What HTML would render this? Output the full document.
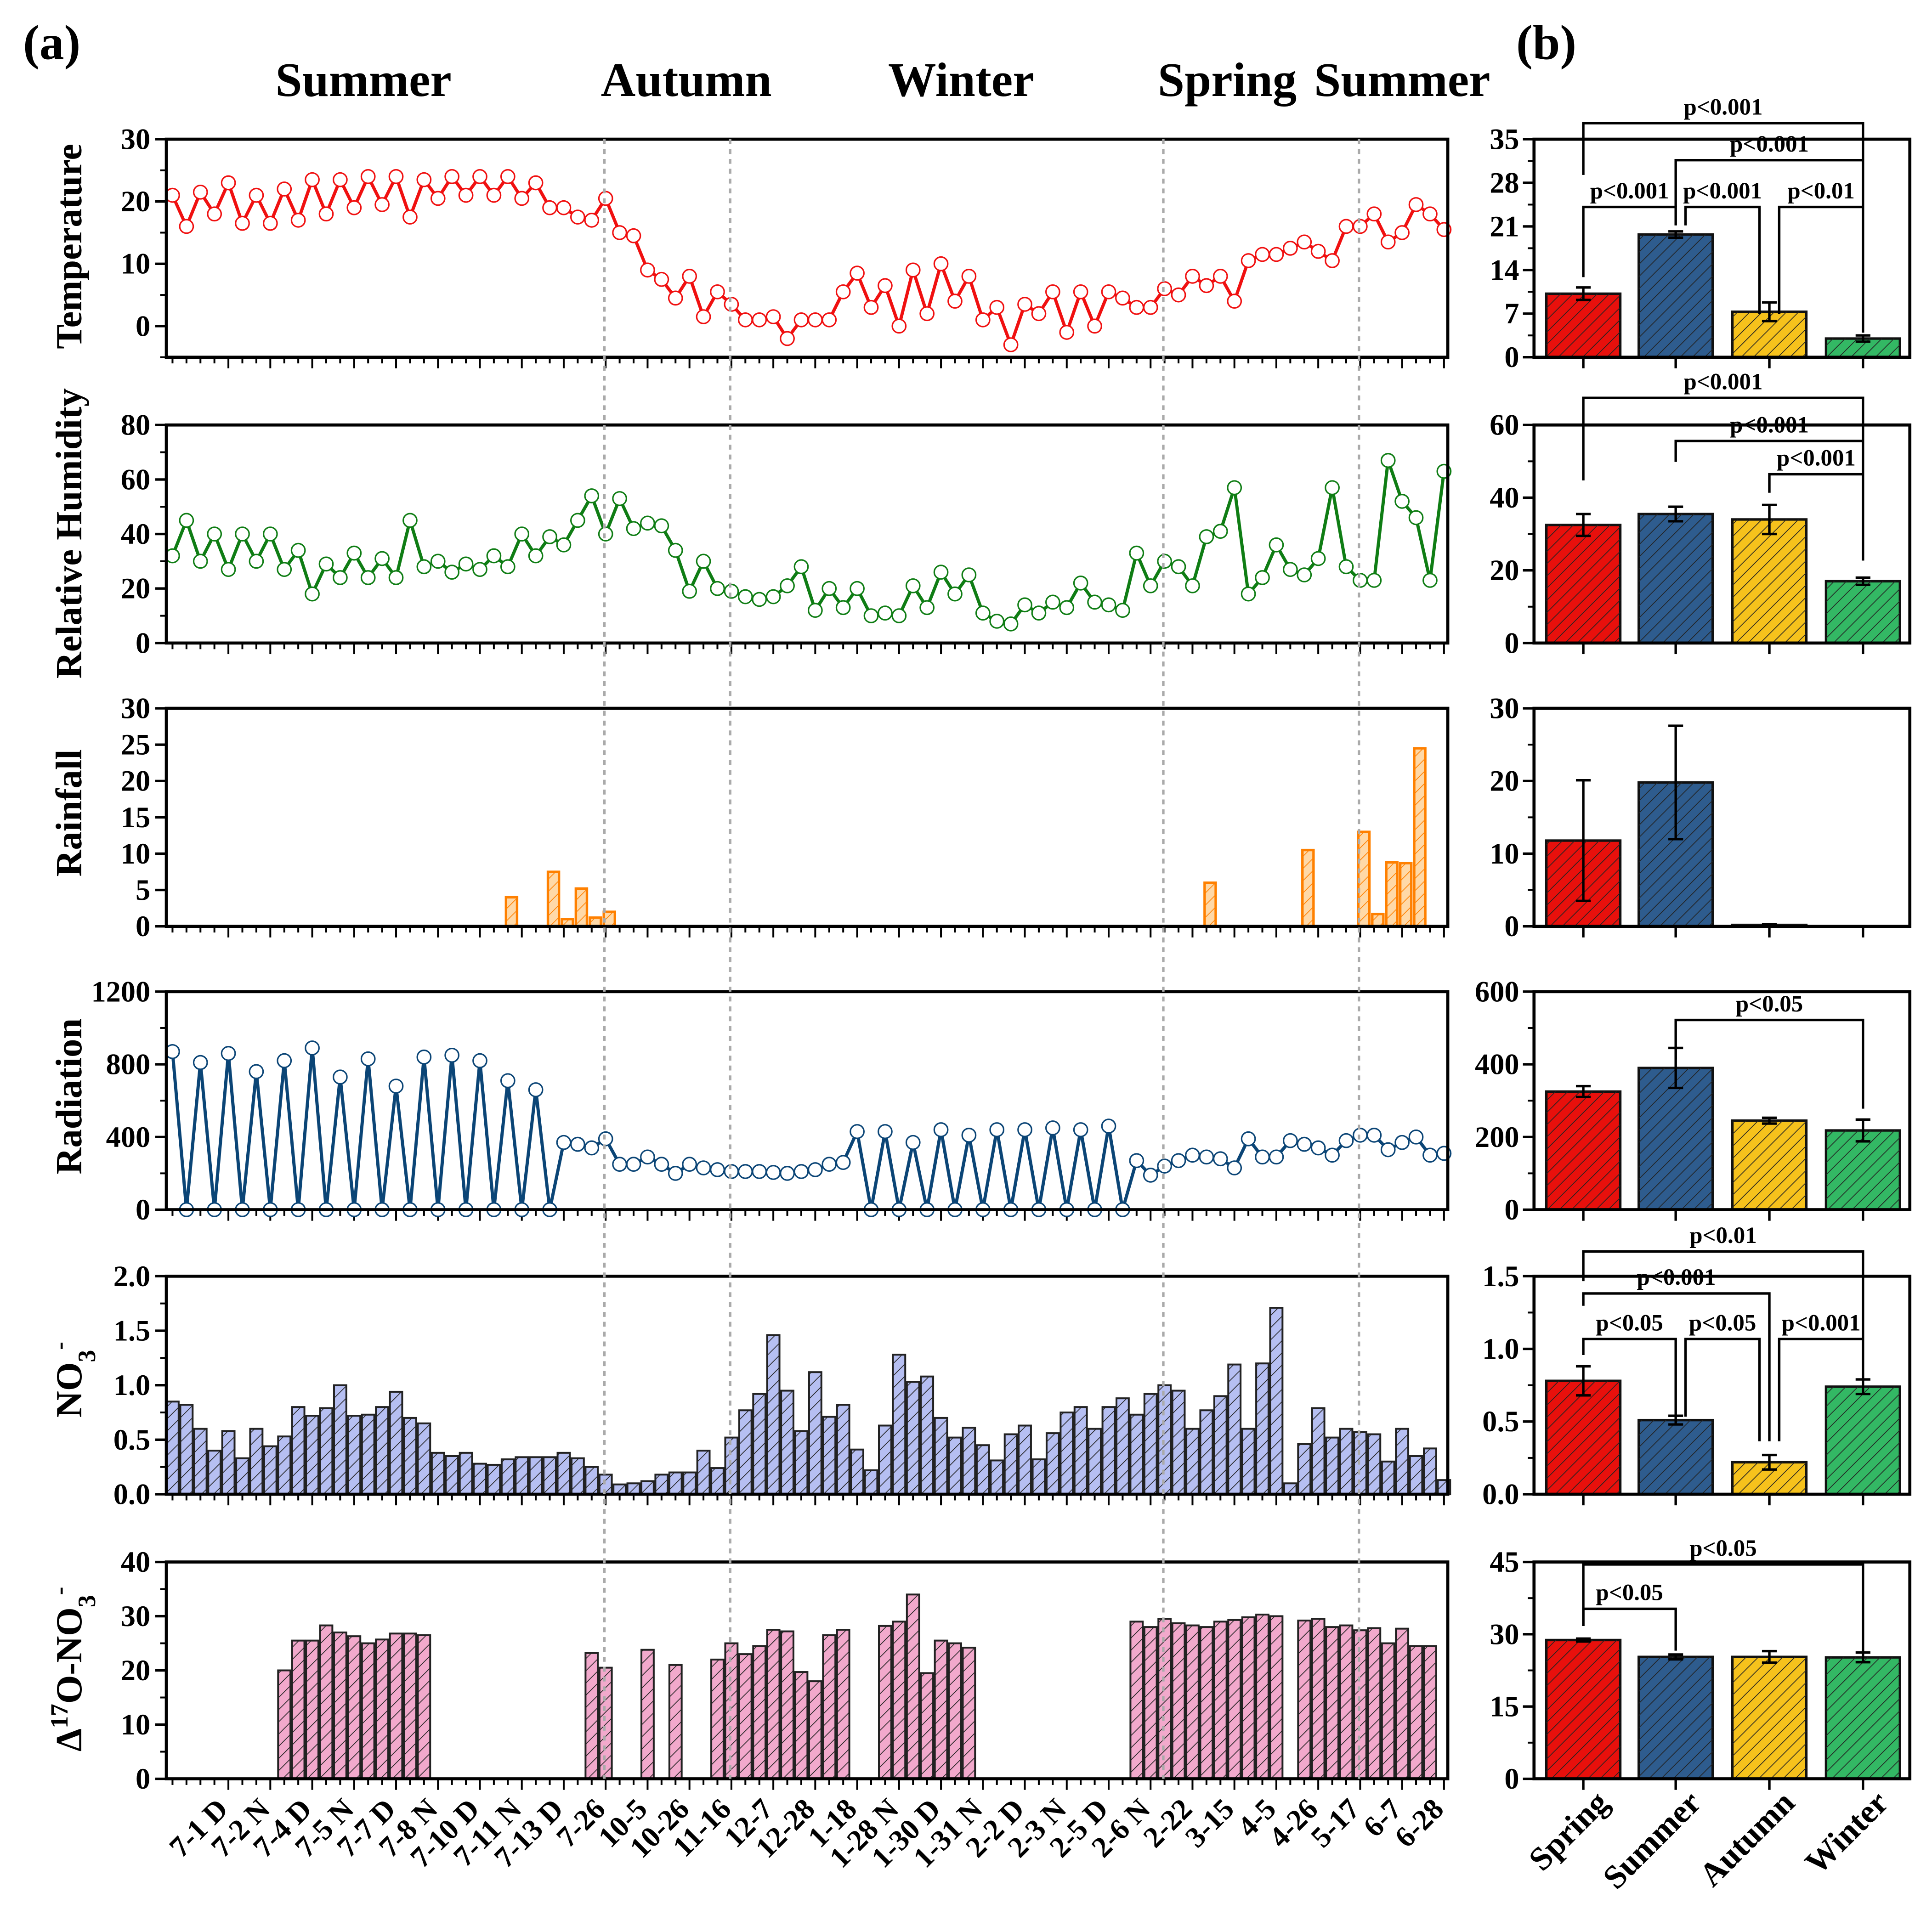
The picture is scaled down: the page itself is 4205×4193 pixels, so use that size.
<!DOCTYPE html>
<html><head><meta charset="utf-8">
<style>
html,body{margin:0;padding:0;background:#fff;}
svg{display:block;font-family:"Liberation Serif",serif;font-weight:bold;}
</style></head>
<body>
<svg id="chart" width="4205" height="4193" viewBox="0 0 1568 1563.5" preserveAspectRatio="none" xmlns="http://www.w3.org/2000/svg">
<defs>
<pattern id="hatch" patternUnits="userSpaceOnUse" width="7" height="7" patternTransform="rotate(45)">
<line x1="0" y1="0" x2="0" y2="7" stroke="#222" stroke-width="1.2"/>
</pattern>
<pattern id="hatchO" patternUnits="userSpaceOnUse" width="7" height="7" patternTransform="rotate(45)">
<line x1="0" y1="0" x2="0" y2="7" stroke="#ff8000" stroke-width="1.2"/>
</pattern>
</defs>
</svg>
<script>
// ---------- data ----------
const xLabels=["7-1 D","7-2 N","7-4 D","7-5 N","7-7 D","7-8 N","7-10 D","7-11 N","7-13 D","7-26","10-5","10-26","11-16","12-7","12-28","1-18","1-28 N","1-30 D","1-31 N","2-2 D","2-3 N","2-5 D","2-6 N","2-22","3-15","4-5","4-26","5-17","6-7","6-28"];
const temperature=[21,16,21.5,18,23,16.5,21,16.5,22,17,23.5,18,23.5,19,24,19.5,24,17.5,23.5,20.5,24,21,24,21,24,20.5,23,19,19,17.5,17,20.5,15,14.5,9,7.5,4.5,8,1.5,5.5,3.5,1,1,1.5,-2,1,1,1,5.5,8.5,3,6.5,0,9,2,10,4,8,1,3,-3,3.5,2,5.5,-1,5.5,0,5.5,4.5,3,3,6,5,8,6.5,8,4,10.5,11.5,11.5,12.5,13.5,12,10.5,16,16,18,13.5,15,19.5,18,15.5];
const humidity=[32,45,30,40,27,40,30,40,27,34,18,29,24,33,24,31,24,45,28,30,26,29,27,32,28,40,32,39,36,45,54,40,53,42,44,43,34,19,30,20,19,17,16,17,21,28,12,20,13,20,10,11,10,21,13,26,18,25,11,8,7,14,11,15,13,22,15,14,12,33,21,30,28,21,39,41,57,18,24,36,27,25,31,57,28,23,23,67,52,46,23,63];
const rainIdx=[24,27,28,29,30,31,74,81,85,86,87,88,89];
const rainVal=[4,7.5,1,5.2,1.2,2,6,10.5,13,1.7,8.8,8.7,24.5];
const radiation=[870,0,810,0,860,0,760,0,820,0,890,0,730,0,830,0,680,0,840,0,850,0,820,0,710,0,660,0,370,360,340,390,250,250,290,250,200,250,230,220,210,210,210,205,200,210,220,250,260,430,0,430,0,370,0,440,0,410,0,440,0,440,0,450,0,440,0,460,0,270,190,240,270,300,290,280,230,390,290,290,380,360,340,300,380,410,410,330,370,400,300,310];
const nitrate=[0.85,0.82,0.6,0.4,0.58,0.33,0.6,0.44,0.53,0.8,0.72,0.79,1.0,0.72,0.73,0.8,0.94,0.7,0.65,0.38,0.35,0.38,0.28,0.27,0.32,0.34,0.34,0.34,0.38,0.33,0.25,0.18,0.09,0.1,0.12,0.18,0.2,0.2,0.4,0.24,0.52,0.77,0.92,1.46,0.95,0.58,1.12,0.71,0.82,0.41,0.22,0.63,1.28,1.03,1.08,0.7,0.52,0.61,0.45,0.31,0.55,0.63,0.32,0.56,0.75,0.8,0.6,0.8,0.88,0.73,0.92,1.0,0.95,0.6,0.77,0.9,1.19,0.6,1.2,1.71,0.1,0.46,0.79,0.52,0.6,0.57,0.55,0.3,0.6,0.35,0.42,0.13];
const d17o=[0,0,0,0,0,0,0,0,20,25.5,25.5,28.3,27,26.3,25,25.7,26.8,26.8,26.5,0,0,0,0,0,0,0,0,0,0,0,23.2,20.5,0,0,23.8,0,21,0,0,22,25,23,24.5,27.5,27.2,19.7,18,26.5,27.5,0,0,28.2,29,34,19.5,25.5,25,24.2,0,0,0,0,0,0,0,0,0,0,0,29,28,29.5,28.7,28.3,28,29,29.3,29.8,30.3,30,0,29.2,29.5,28,28.3,27.4,27.8,25,27.7,24.5,24.5,0];
const dashedIdx=[31,40,71,85];
const seasons=["Spring","Summer","Autumn","Winter"];
const sTemp=[10.2,19.7,7.3,3], sTempErr=[1,0.5,1.5,0.5];
const sRH=[32.5,35.5,34,17], sRHErr=[3,2,4,1];
const sRain=[11.8,19.8,0.2,0], sRainErr=[8.3,7.8,0.1,0];
const sRad=[325,390,245,218], sRadErr=[15,55,8,30];
const sNO3=[0.78,0.51,0.22,0.74], sNO3Err=[0.1,0.03,0.05,0.05];
const sD17=[28.8,25.3,25.3,25.2], sD17Err=[0.3,0.5,1.2,1];

// ---------- helpers ----------
const svg=document.getElementById('chart');
const NS='http://www.w3.org/2000/svg';
function el(tag,attrs,parent){const e=document.createElementNS(NS,tag);for(const k in attrs)e.setAttribute(k,attrs[k]);(parent||svg).appendChild(e);return e;}
const X0=140,DX=11.34;
const xi=i=>X0+i*DX;
const L0=135,L1=1175,R0=1245,R1=1550;
const seasonX=[1285,1360,1436,1512];
const seasonCol=["#e8100c","#2e5c8e","#f6c21c","#33b864"];
function yScale(top,bot,min,max){return v=>bot-(v-min)/(max-min)*(bot-top);}

function leftPanel(name,top,bot,min,max,ticks,title,minorStep){
  const g=el('g',{});
  
  
  const y=yScale(top,bot,min,max);
  ticks.forEach(t=>{
    el('line',{x1:L0-9,x2:L0,y1:y(t),y2:y(t),stroke:'#000','stroke-width':2},g);
    const tx=el('text',{x:L0-13,y:y(t)+8,'text-anchor':'end','font-size':24},g);tx.textContent=t;
  });
  if(minorStep){for(let v=min;v<=max+1e-9;v+=minorStep){el('line',{x1:L0-5,x2:L0,y1:y(v),y2:y(v),stroke:'#000','stroke-width':1.5},g);}}
  for(let i=0;i<92;i++){const major=(i-4)%3===0&&i>=4;el('line',{x1:xi(i),x2:xi(i),y1:bot,y2:bot+(major?9:5),stroke:'#000','stroke-width':1.5},g);}
  return {g,y};
}
function frame(g,x0,x1,top,bot){el('rect',{x:x0,y:top,width:x1-x0,height:bot-top,fill:'none',stroke:'#000','stroke-width':2.5},g);}
function yTitle(text,cy){
  const t=el('text',{x:0,y:0,'text-anchor':'middle','font-size':30,transform:`translate(66,${cy}) rotate(-90)`});
  
  
  t.innerHTML=text;
}
function linePanel(g,y,vals,color,name){
  const pts=vals.map((v,i)=>xi(i)+','+y(v)).join(' ');
  const pl=el('polyline',{points:pts,fill:'none',stroke:color,'stroke-width':2.6},g);
  
  
  vals.forEach((v,i)=>{
    const c=el('circle',{cx:xi(i),cy:y(v),r:5.5,fill:'#fff',stroke:color,'stroke-width':1.2},g);
    
    
  });
}
function barPanel(g,y,vals,fill,name,w){
  vals.forEach((v,i)=>{if(v<=0)return;
    const b=el('rect',{x:xi(i)-w/2,y:y(v),width:w,height:y(0)-y(v),fill:fill,stroke:'#222','stroke-width':1.5},g);
    
    
    el('rect',{x:xi(i)-w/2,y:y(v),width:w,height:y(0)-y(v),fill:'url(#hatch)',stroke:'none'},g);
  });
}
function rightPanel(name,top,bot,min,max,ticks,vals,errs,brackets,fmt){
  const g=el('g',{});
  
  
  const y=yScale(top,bot,min,max);
  ticks.forEach((t,k)=>{
    el('line',{x1:R0-9,x2:R0,y1:y(t),y2:y(t),stroke:'#000','stroke-width':2},g);
    const tx=el('text',{x:R0-12,y:y(t)+8,'text-anchor':'end','font-size':24},g);tx.textContent=fmt?fmt(t):t;
    if(k<ticks.length-1){const m=(t+ticks[k+1])/2;el('line',{x1:R0-5,x2:R0,y1:y(m),y2:y(m),stroke:'#000','stroke-width':1.5},g);}
  });
  seasonX.forEach((sx,i)=>{
    el('line',{x1:sx,x2:sx,y1:bot,y2:bot+9,stroke:'#000','stroke-width':2},g);
    const v=vals[i];
    if(v>0){
      const b=el('rect',{x:sx-30,y:y(v),width:60,height:y(0)-y(v),fill:seasonCol[i],stroke:'#111','stroke-width':2},g);
      
      
      el('rect',{x:sx-30,y:y(v),width:60,height:y(0)-y(v),fill:'url(#hatch)',stroke:'none'},g);
    }
    if(errs[i]>0){
      const e1=y(v+errs[i]),e2=y(Math.max(min,v-errs[i]));
      el('line',{x1:sx,x2:sx,y1:e1,y2:e2,stroke:'#000','stroke-width':2},g);
      el('line',{x1:sx-6,x2:sx+6,y1:e1,y2:e1,stroke:'#000','stroke-width':2},g);
      el('line',{x1:sx-6,x2:sx+6,y1:e2,y2:e2,stroke:'#000','stroke-width':2},g);
    }
  });
  brackets.forEach(b=>{
    const [a,c,by,la,lc,lbl]=b;
    const xa=seasonX[a]+(a===0?0:(b[6]||0)),xc=seasonX[c]+(b[7]||0);
    el('polyline',{points:`${xa},${la} ${xa},${by} ${xc},${by} ${xc},${lc}`,fill:'none',stroke:'#000','stroke-width':2},g);
    const t=el('text',{x:(xa+xc)/2,y:by-7,'text-anchor':'middle','font-size':19},g);t.textContent=lbl;
    
    
  });
  frame(g,R0,R1,top,bot);
  return {g,y};
}

// ---------- headers ----------
[["(a)",42,48],["(b)",1255,48]].forEach(([t,x,yy])=>{const e=el('text',{x,y:yy,'text-anchor':'middle','font-size':40});e.textContent=t;});
[["Summer",295],["Autumn",557],["Winter",780],["Spring",996],["Summer",1138]].forEach(([t,x])=>{const e=el('text',{x,y:78,'text-anchor':'middle','font-size':39});e.textContent=t;});

// ---------- left panels ----------
let p=leftPanel('temperature',113,290,-5,30,[0,10,20,30],'',5);
linePanel(p.g,p.y,temperature,'#f01010','temperature');frame(p.g,L0,L1,113,290);
yTitle('Temperature',200);

p=leftPanel('humidity',345,522,0,80,[0,20,40,60,80],'',10);
linePanel(p.g,p.y,humidity,'#0f7d14','humidity');frame(p.g,L0,L1,345,522);
yTitle('Relative Humidity',433);

p=leftPanel('rainfall',575,752,0,30,[0,5,10,15,20,25,30],'',null);
rainIdx.forEach((ri,k)=>{const yy=p.y,v=rainVal[k];const cx=xi(ri)+3;
  const b=el('rect',{x:cx-4.5,y:yy(v),width:9,height:yy(0)-yy(v),fill:'#ffd9a8',stroke:'#ff8000','stroke-width':2},p.g);
  
  
  el('rect',{x:cx-4.5,y:yy(v),width:9,height:yy(0)-yy(v),fill:'url(#hatchO)'},p.g);});
frame(p.g,L0,L1,575,752);
yTitle('Rainfall',660);

p=leftPanel('radiation',805,982,0,1200,[0,400,800,1200],'',200);
linePanel(p.g,p.y,radiation,'#0b4576','radiation');frame(p.g,L0,L1,805,982);
yTitle('Radiation',890);

p=leftPanel('nitrate',1036,1213,0,2,[0,0.5,1,1.5,2],'',0.25);
p.g.querySelectorAll('text').forEach((t,k)=>t.textContent=[0,0.5,1,1.5,2][k].toFixed(1));
barPanel(p.g,p.y,nitrate,'#b6bff2','nitrate',10);frame(p.g,L0,L1,1036,1213);
yTitle('NO<tspan baseline-shift="sub" font-size="20">3</tspan><tspan baseline-shift="super" font-size="20">-</tspan>',1120);

p=leftPanel('d17o',1268,1444,0,40,[0,10,20,30,40],'',5);
barPanel(p.g,p.y,d17o,'#f2a9cc','d17o',10);frame(p.g,L0,L1,1268,1444);
yTitle('Δ<tspan baseline-shift="super" font-size="20">17</tspan>O-NO<tspan baseline-shift="sub" font-size="20">3</tspan><tspan baseline-shift="super" font-size="20">-</tspan>',1355);

// dashed separators
dashedIdx.forEach(i=>{const l=el('line',{x1:xi(i)-1,x2:xi(i)-1,y1:113,y2:1444,stroke:'#aaa','stroke-width':2,'stroke-dasharray':'4,4'});});

// x labels
xLabels.forEach((t,k)=>{const i=4+3*k;const e=el('text',{x:0,y:0,'text-anchor':'end','font-size':24,transform:`translate(${xi(i)+1},${1470}) rotate(-45)`});e.textContent=t;});

// ---------- right panels ----------
rightPanel('temperature',113,290,0,35,[0,7,14,21,28,35],sTemp,sTempErr,[
 [0,3,100,142,270,'p<0.001'],[1,3,130,168,270,'p<0.001',0],[0,1,168,225,183,'p<0.001'],[1,2,168,183,255,'p<0.001',8,-8],[2,3,168,255,262,'p<0.01',8]],null);
rightPanel('humidity',345,522,0,60,[0,20,40,60],sRH,sRHErr,[
 [0,3,323,390,455,'p<0.001'],[1,3,358,375,455,'p<0.001'],[2,3,385,400,455,'p<0.001']],null);
rightPanel('rainfall',575,752,0,30,[0,10,20,30],sRain,sRainErr,[],null);
rightPanel('radiation',805,982,0,600,[0,200,400,600],sRad,sRadErr,[[1,3,828,860,900,'p<0.05']],null);
rightPanel('nitrate',1036,1213,0,1.5,[0,0.5,1,1.5],sNO3,sNO3Err,[
 [0,3,1016,1040,1110,'p<0.01'],[0,2,1050,1060,1170,'p<0.001'],[0,1,1087,1100,1150,'p<0.05'],[1,2,1087,1150,1170,'p<0.05',8,-8],[2,3,1087,1170,1120,'p<0.001',8]],t=>t.toFixed(1));
rightPanel('d17o',1268,1444,0,45,[0,15,30,45],sD17,sD17Err,[
 [0,3,1270,1320,1345,'p<0.05'],[0,1,1306,1320,1340,'p<0.05']],null);
seasons.forEach((s,i)=>{const e=el('text',{x:0,y:0,'text-anchor':'end','font-size':27,transform:`translate(${seasonX[i]+22},${1465}) rotate(-45)`});e.textContent=s;});
</script>
</body></html>
